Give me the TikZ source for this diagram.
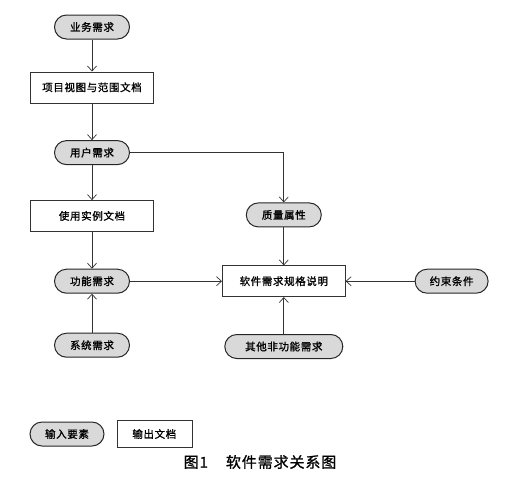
\documentclass[tikz,border=0pt]{standalone}
\usepackage{fontspec}
\usetikzlibrary{arrows.meta,positioning}
\newfontfamily\cjk[AutoFakeBold=1.2,LetterSpace=6]{Noto Sans CJK SC}
\definecolor{Pill}{HTML}{D9D9D9}
\definecolor{Edge}{HTML}{333333}
\tikzset{
  input/.style={rectangle, rounded corners=12pt, draw=black!85, line width=1pt,
    fill=Pill, minimum width=75pt, minimum height=24pt, inner sep=2pt,
    font=\cjk\bfseries\fontsize{10.5}{12}\selectfont},
  output/.style={rectangle, draw=black!80, line width=0.6pt, fill=white,
    minimum width=123pt, minimum height=31pt,
    font=\cjk\bfseries\fontsize{10.5}{12}\selectfont},
  arrow/.style={-{Straight Barb[length=5pt,width=9pt]}, line width=0.7pt, draw=Edge},
  caption/.style={font=\cjk\bfseries\fontsize{15}{18}\selectfont}
}
\begin{document}
\begin{tikzpicture}[x=1pt, y=1pt, node distance=37pt]
  \useasboundingbox (0,0) rectangle (521,-483);
  \node[input] (bizreq) at (92,-27) {业务需求};
  \node[output, below=32pt of bizreq] (vision) {项目视图与范围文档};
  \node[input, below=37pt of vision] (userreq) {用户需求};
  \node[output, below=35pt of userreq] (usecase) {使用实例文档};
  \node[input, below=37pt of usecase] (funcreq) {功能需求};
  \node[input, below=39pt of funcreq] (sysreq) {系统需求};
  \node[output, right=92pt of funcreq] (srs) {软件需求规格说明};
  \node[input, above=38pt of srs] (quality) {质量属性};
  \node[input, right=69pt of srs, minimum width=73pt] (constraint) {约束条件};
  \node[input, below=37pt of srs, minimum width=118pt] (nonfunc) {其他非功能需求};
  % legend
  \node[input, minimum width=74pt] (legin) at (67,-434) {输入要素};
  \node[output, right=12pt of legin, minimum width=75pt, minimum height=27pt] (legout) {输出文档};
  \node[caption] (title) at (260,-462) {图1\hspace{1.2em}软件需求关系图};

  \draw[arrow] (bizreq) -- (vision);
  \draw[arrow] (vision) -- (userreq);
  \draw[arrow] (userreq) -- (usecase);
  \draw[arrow] (userreq) -| (quality);
  \draw[arrow] (usecase) -- (funcreq);
  \draw[arrow] (sysreq) -- (funcreq);
  \draw[arrow] (funcreq) -- (srs);
  \draw[arrow] (quality) -- (srs);
  \draw[arrow] (constraint) -- (srs);
  \draw[arrow] (nonfunc) -- (srs);
\end{tikzpicture}
\end{document}
